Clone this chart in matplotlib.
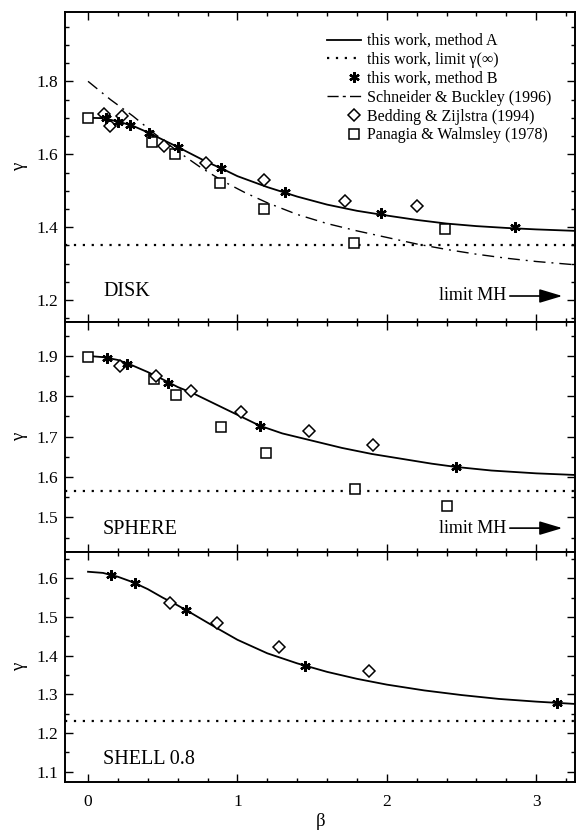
import matplotlib as mpl
import matplotlib.pyplot as plt
from matplotlib.legend_handler import HandlerLine2D
from matplotlib.lines import Line2D
from matplotlib.ticker import MultipleLocator

mpl.use('Agg')
plt.rcParams['font.family'] = ['Liberation Serif', 'DejaVu Serif']

# ---- DISK ----
disk_curve_b = [0.0, 0.1, 0.2, 0.3, 0.4, 0.6, 0.8, 0.9, 1.0, 1.2, 1.4, 1.6, 1.8, 2.0, 2.2, 2.4, 2.6, 2.8, 3.0, 3.26]
disk_curve_g = [1.700, 1.699, 1.690, 1.678, 1.660, 1.620, 1.578, 1.560, 1.540, 1.510, 1.484, 1.462, 1.445, 1.432,
                1.420, 1.410, 1.403, 1.398, 1.394, 1.390]
disk_sb_b = [0.0, 0.15, 0.3, 0.45, 0.6, 0.75, 0.9, 1.05, 1.2, 1.4, 1.6, 1.8, 2.0, 2.2, 2.4, 2.6, 2.8, 3.0, 3.26]
disk_sb_g = [1.800, 1.750, 1.705, 1.655, 1.608, 1.565, 1.527, 1.495, 1.467, 1.435, 1.410, 1.390, 1.372, 1.354,
             1.339, 1.326, 1.315, 1.306, 1.297]
disk_limit = 1.35
disk_star_b = [0.119, 0.198, 0.284, 0.406, 0.60, 0.888, 1.32, 1.96, 2.86]
disk_star_g = [1.699, 1.689, 1.679, 1.659, 1.619, 1.561, 1.496, 1.438, 1.400]
disk_bz_b = [0.107, 0.15, 0.23, 0.51, 0.79, 1.175, 1.72, 2.20]
disk_bz_g = [1.711, 1.677, 1.704, 1.622, 1.576, 1.529, 1.473, 1.458]
disk_pw_b = [0.0, 0.43, 0.58, 0.88, 1.18, 1.78, 2.39]
disk_pw_g = [1.700, 1.634, 1.600, 1.522, 1.451, 1.356, 1.394]

# ---- SPHERE ----
sph_curve_b = [0.0, 0.1, 0.2, 0.3, 0.4, 0.5, 0.6, 0.7, 0.8, 0.9, 1.0, 1.15, 1.3, 1.5, 1.7, 1.9, 2.1, 2.3, 2.46,
               2.7, 3.0, 3.26]
sph_curve_g = [1.900, 1.897, 1.890, 1.876, 1.860, 1.842, 1.823, 1.808, 1.790, 1.772, 1.754, 1.727, 1.708, 1.690,
               1.672, 1.657, 1.645, 1.633, 1.625, 1.616, 1.609, 1.605]
sph_limit = 1.565
sph_star_b = [0.124, 0.259, 0.536, 1.15, 2.46]
sph_star_g = [1.894, 1.880, 1.834, 1.727, 1.625]
sph_bz_b = [0.215, 0.453, 0.69, 1.023, 1.48, 1.91]
sph_bz_g = [1.876, 1.850, 1.812, 1.762, 1.715, 1.680]
sph_pw_b = [0.0, 0.443, 0.59, 0.89, 1.19, 1.79, 2.40]
sph_pw_g = [1.898, 1.842, 1.802, 1.725, 1.659, 1.571, 1.529]

# ---- SHELL 0.8 ----
shell_curve_b = [0.0, 0.1, 0.2, 0.3, 0.4, 0.5, 0.6, 0.7, 0.85, 1.0, 1.2, 1.4, 1.6, 1.8, 2.0, 2.25, 2.5, 2.75, 3.0,
                 3.26]
shell_curve_g = [1.617, 1.614, 1.604, 1.590, 1.572, 1.550, 1.530, 1.508, 1.474, 1.441, 1.406, 1.380, 1.358, 1.340,
                 1.325, 1.310, 1.298, 1.288, 1.281, 1.275]
shell_limit = 1.23
shell_star_b = [0.151, 0.313, 0.657, 1.455, 3.14]
shell_star_g = [1.609, 1.589, 1.518, 1.374, 1.277]
shell_bz_b = [0.546, 0.86, 1.28, 1.88]
shell_bz_g = [1.535, 1.484, 1.423, 1.359]

legend_labels = ['this work, method A', 'this work, limit γ(∞)', 'this work, method B',
                 'Schneider & Buckley (1996)', 'Bedding & Zijlstra (1994)', 'Panagia & Walmsley (1978)']

dotted = (0, (1, 3))
dashdot = (0, (8.6, 4.3, 1.4, 4.3))
star = dict(marker=(6, 2, 0), ms=7.5, mew=1.7, color='black', ls='none')
diamond = dict(marker='D', ms=6, mew=1.1, mfc='white', mec='black', ls='none')
square = dict(marker='s', ms=7, mew=1.1, mfc='white', mec='black', ls='none')


class RightMarker(HandlerLine2D):
    # marker sits near the right end of the handle, close to the text
    def get_xdata(self, legend, xdescent, ydescent, width, height, fontsize):
        p = width - xdescent - 0.42 * fontsize
        return [p, p], [p]


fig = plt.figure(figsize=(5.76, 8.30), dpi=100)
left, width = 0.1134, 0.885
ax1 = fig.add_axes([left, 0.612, width, 0.3735])
ax2 = fig.add_axes([left, 0.3349, width, 0.2771], sharex=ax1)
ax3 = fig.add_axes([left, 0.0578, width, 0.2771], sharex=ax1)

panels = [
    (ax1, disk_curve_b, disk_curve_g, disk_limit, disk_star_b, disk_star_g, disk_bz_b, disk_bz_g, disk_pw_b,
     disk_pw_g, 'DISK', (1.14, 1.99), 0.2),
    (ax2, sph_curve_b, sph_curve_g, sph_limit, sph_star_b, sph_star_g, sph_bz_b, sph_bz_g, sph_pw_b, sph_pw_g,
     'SPHERE', (1.414, 1.984), 0.1),
    (ax3, shell_curve_b, shell_curve_g, shell_limit, shell_star_b, shell_star_g, shell_bz_b, shell_bz_g, None, None,
     'SHELL 0.8', (1.073, 1.668), 0.1),
]

for ax, cb, cg, lim, sb, sg, bb, bg, pb, pg, name, ylim, major in panels:
    ax.plot(cb, cg, color='black', lw=1.3, zorder=2)
    ax.axhline(lim, color='black', lw=1.6, ls=dotted, zorder=1)
    if pb is not None:
        ax.plot(pb, pg, zorder=3, **square)
    ax.plot(bb, bg, zorder=3, **diamond)
    ax.plot(sb, sg, zorder=4, **star)
    ax.set_ylim(*ylim)
    ax.yaxis.set_major_locator(MultipleLocator(major))
    ax.yaxis.set_minor_locator(MultipleLocator(0.05))
    ax.set_ylabel('γ', fontsize=13.5, labelpad=6)
    ax.text(0.074, 0.10, name, transform=ax.transAxes, fontsize=14.5, va='center', ha='left')
    ax.tick_params(which='both', direction='in', top=True, right=True, labelsize=12.5, width=1)
    ax.tick_params(which='major', length=5.5)
    ax.tick_params(which='minor', length=2.8)
    ax.tick_params(axis='y', pad=5)
    ax.tick_params(axis='x', pad=8.5)
    for sp in ax.spines.values():
        sp.set_linewidth(1.4)

ax1.plot(disk_sb_b, disk_sb_g, color='black', lw=1.0, ls=dashdot, zorder=2)

for ax, ytxt in [(ax1, 0.084), (ax2, 0.104)]:
    ax.annotate('', xy=(0.975, ytxt), xytext=(0.872, ytxt), xycoords='axes fraction',
                arrowprops=dict(arrowstyle='-|>,head_length=1.4,head_width=0.42', color='black', lw=1.2,
                                shrinkA=0, shrinkB=0))
    ax.text(0.733, ytxt, 'limit MH', transform=ax.transAxes, fontsize=13, va='center', ha='left')

ax3.set_xlim(-0.152, 3.26)
ax3.xaxis.set_major_locator(MultipleLocator(1))
ax3.xaxis.set_minor_locator(MultipleLocator(0.2))
ax3.set_xlabel('β', fontsize=13.5, labelpad=2)
plt.setp(ax1.get_xticklabels(), visible=False)
plt.setp(ax2.get_xticklabels(), visible=False)

handles = [
    Line2D([], [], color='black', lw=1.3),
    Line2D([], [], color='black', lw=1.6, ls=dotted),
    Line2D([], [], **star),
    Line2D([], [], color='black', lw=1.0, ls=(0, (8, 3, 2.2, 3))),
    Line2D([], [], **diamond),
    Line2D([], [], **square),
]
ax1.legend(handles, legend_labels, loc='upper left', bbox_to_anchor=(0.513, 0.932), frameon=False, fontsize=11.5,
           handlelength=2.15, handletextpad=0.36, labelspacing=0.18, borderpad=0, borderaxespad=0, numpoints=1,
           handler_map={handles[2]: RightMarker(), handles[4]: RightMarker(), handles[5]: RightMarker()})

fig.savefig('out.png', dpi=100)
